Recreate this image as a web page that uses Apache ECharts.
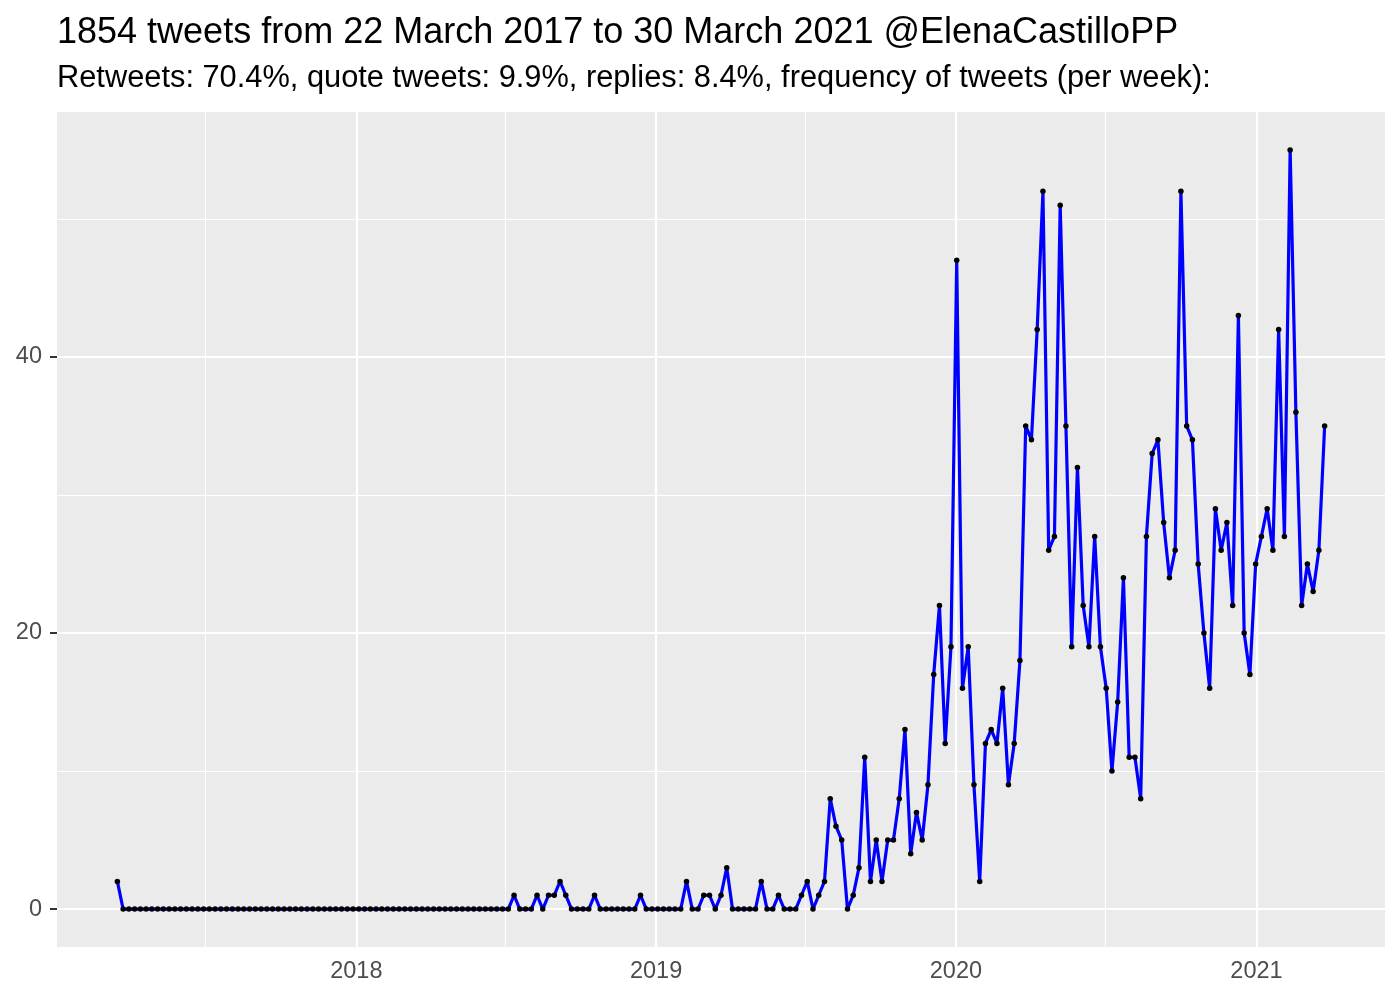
<!DOCTYPE html>
<html><head><meta charset="utf-8">
<script src="https://cdn.jsdelivr.net/npm/echarts@6/dist/echarts.min.js"></script>
<style>html,body{margin:0;padding:0;background:#fff}#chart{width:1400px;height:1000px}</style>
</head><body><div id="chart"></div>
<script>
const titleText = '1854 tweets from 22 March 2017 to 30 March 2021 @ElenaCastilloPP';
const subtitleText = 'Retweets: 70.4%, quote tweets: 9.9%, replies: 8.4%, frequency of tweets (per week):';
const firstWeek = '2017-03-16';
const tweetsPerWeek = [
  2,
  0,0,0,0,0,0,0,0,0,0,
  0,0,0,0,0,0,0,0,0,0,
  0,0,0,0,0,0,0,0,0,0,
  0,0,0,0,0,0,0,0,0,0,
  0,0,0,0,0,0,0,0,0,0,
  0,0,0,0,0,0,0,0,0,0,
  0,0,0,0,0,0,0,0,
  1,0,0,0,1,0,1,1,2,1,
  0,0,0,0,1,0,0,0,0,0,
  0,0,1,0,0,0,0,0,0,0,
  2,0,0,1,1,0,1,3,0,0,
  0,0,0,2,0,0,1,0,0,0,
  1,2,0,1,2,8,6,5,0,1,
  3,11,2,5,2,5,5,8,13,4,
  7,5,9,17,22,12,19,47,16,19,
  9,2,12,13,12,16,9,12,18,35,
  34,42,52,26,27,51,35,19,32,22,
  19,27,19,16,10,15,24,11,11,8,
  27,33,34,28,24,26,52,35,34,25,
  20,16,29,26,28,22,43,20,17,25,
  27,29,26,42,27,55,36,22,25,23,
  26,35
];
const xMajorBreaks = ['2018-01-01','2019-01-01','2020-01-01','2021-01-01'];
const xMinorBreaks = ['2017-07-01','2018-07-01','2019-07-01','2020-07-01'];
const yMajorBreaks = [0, 20, 40];
const yMinorBreaks = [10, 30, 50];
const xRange = ['2017-01-01T12:00:00Z', '2021-06-06T12:00:00Z'];
const yRange = [-2.75, 57.75];

const DAY = 86400000;
const ts = s => Date.parse(s.length === 10 ? s + 'T00:00:00Z' : s);
const t0 = ts(firstWeek);
const seriesData = tweetsPerWeek.map((v, i) => [t0 + i * 7 * DAY, v]);
const xMajorTs = xMajorBreaks.map(ts);
const xMinorTs = xMinorBreaks.map(ts);
const FONT = '"Liberation Sans", Arial, Helvetica, sans-serif';

const gridLines = [];
xMinorTs.forEach(t => gridLines.push({xAxis: t, lineStyle: {color: '#fff', width: 1.1, type: 'solid'}}));
yMinorBreaks.forEach(v => gridLines.push({yAxis: v, lineStyle: {color: '#fff', width: 1.1, type: 'solid'}}));
xMajorTs.forEach(t => gridLines.push({xAxis: t, lineStyle: {color: '#fff', width: 2.2, type: 'solid'}}));
yMajorBreaks.forEach(v => gridLines.push({yAxis: v, lineStyle: {color: '#fff', width: 2.2, type: 'solid'}}));

const chart = echarts.init(document.getElementById('chart'), null, {renderer: 'canvas'});
chart.setOption({
  animation: false,
  backgroundColor: '#fff',
  title: [
    {text: titleText, left: 57, top: 15, padding: 0,
     textStyle: {fontSize: 36, fontWeight: 'normal', color: '#000', fontFamily: FONT}},
    {text: subtitleText, left: 57, top: 63, padding: 0,
     textStyle: {fontSize: 30.8, fontWeight: 'normal', color: '#000', fontFamily: FONT}}
  ],
  grid: {left: 57, right: 15, top: 112, bottom: 53, show: true, backgroundColor: '#EBEBEB', borderWidth: 0, containLabel: false},
  xAxis: {
    type: 'value', min: ts(xRange[0]), max: ts(xRange[1]),
    axisLine: {show: false},
    splitLine: {show: false},
    axisTick: {show: true, customValues: xMajorTs, length: 7, lineStyle: {color: '#333333', width: 2}},
    axisLabel: {customValues: xMajorTs, color: '#4D4D4D', fontSize: 23.5, fontFamily: FONT, margin: 13,
      formatter: v => String(new Date(v).getUTCFullYear())}
  },
  yAxis: {
    type: 'value', min: yRange[0], max: yRange[1],
    axisLine: {show: false},
    splitLine: {show: false},
    axisTick: {show: true, customValues: yMajorBreaks, length: 7, lineStyle: {color: '#333333', width: 2}},
    axisLabel: {customValues: yMajorBreaks, color: '#4D4D4D', fontSize: 23.5, fontFamily: FONT, margin: 15}
  },
  series: [
    {
      type: 'line', data: [], z: 1, silent: true,
      markLine: {silent: true, z: 1, symbol: 'none', animation: false, label: {show: false},
        emphasis: {disabled: true}, data: gridLines}
    },
    {
      type: 'line', z: 3, data: seriesData,
      showSymbol: true, showAllSymbol: true, symbol: 'circle', symbolSize: 5.5,
      itemStyle: {color: '#000'},
      lineStyle: {color: '#0000FF', width: 3.2},
      emphasis: {disabled: true}
    }
  ]
});
</script>
</body></html>
